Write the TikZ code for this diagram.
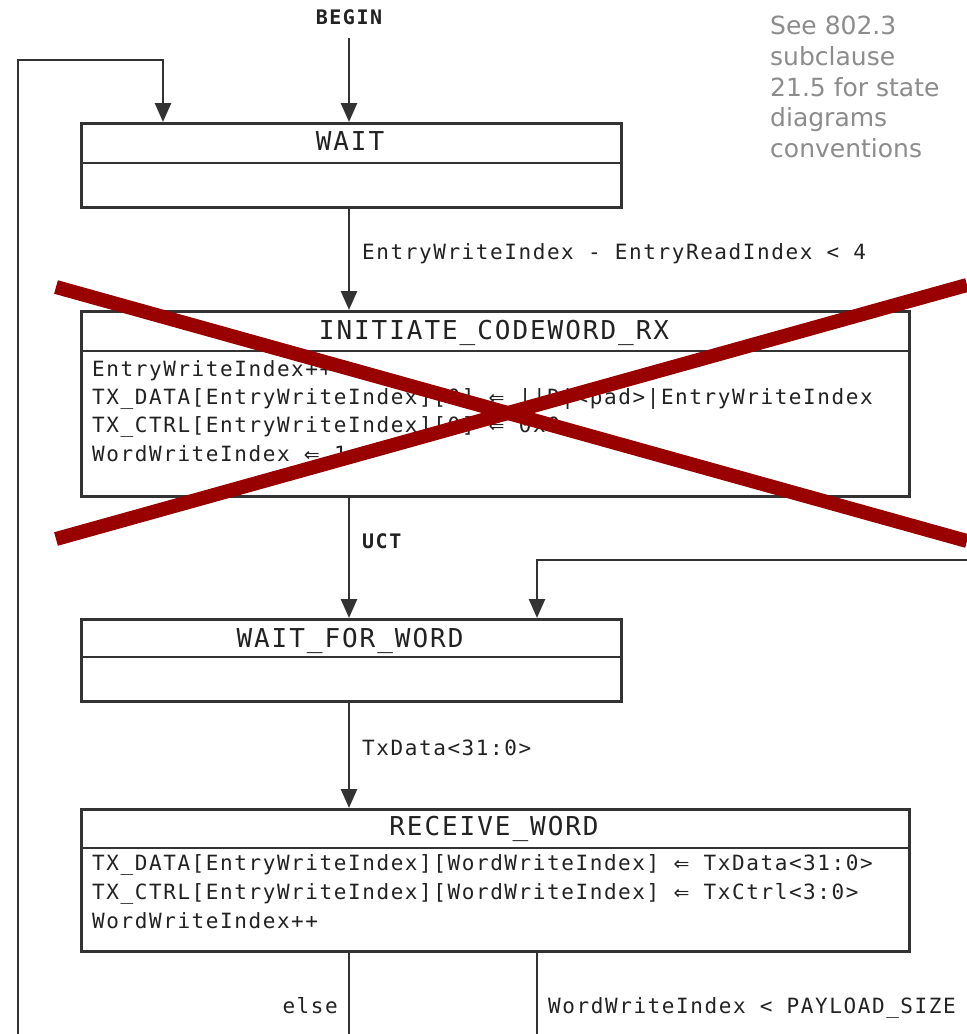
\documentclass[tikz,border=0pt]{standalone}
\usepackage{fontspec}
\usetikzlibrary{arrows.meta}
\newfontfamily\monoA[LetterSpace=7.5]{DejaVu Sans Mono}
\newfontfamily\noteF{DejaVu Sans}
\newcommand\assignsym{{\noteF\fontsize{19}{28}\selectfont ⇐}}
\definecolor{ln}{HTML}{333333}
\definecolor{txt}{HTML}{222222}
\definecolor{xred}{HTML}{990000}
\definecolor{notegray}{HTML}{8C8C8C}
\begin{document}
\begin{tikzpicture}[x=1pt,y=-1pt,
  statebox/.style={draw=ln, line width=2.8pt, anchor=north west, inner sep=0pt},
  divline/.style={draw=ln, line width=2.8pt},
  arr/.style={draw=ln, line width=2.6pt, -{Triangle[width=16pt,length=19pt]}},
  plain/.style={draw=ln, line width=2.6pt},
  title/.style={font=\monoA\fontsize{26}{30}\selectfont, text=txt, inner sep=0pt, text height=19pt, text depth=1pt},
  body/.style={font=\monoA\fontsize{21}{28}\selectfont, text=txt, anchor=west, inner sep=0pt, text height=15pt, text depth=1pt},
  boldlbl/.style={font=\monoA\bfseries\fontsize{20}{24}\selectfont, text=txt, inner sep=0pt, text height=15pt, text depth=1pt},
  note/.style={font=\noteF\fontsize{25}{30}\selectfont, text=notegray, anchor=west, inner sep=0pt, text height=18pt, text depth=0pt},
  xline/.style={draw=xred, line width=14pt}
]
\fill[white] (0,0) rectangle (967,1034);
\useasboundingbox (0,0) rectangle (967,1034);

% note
\node[note] (n1) at (770,25.5) {See 802.3};
\node[note] (n2) at (770,56.3) {subclause};
\node[note] (n3) at (770,87) {21.5 for state};
\node[note] (n4) at (770,117.8) {diagrams};
\node[note] (n5) at (770,148.5) {conventions};

% BEGIN
\node[boldlbl] (begin) at (349,17) {BEGIN};

% WAIT
\node[statebox, minimum width=540pt, minimum height=84pt] (wait) at (80,122) {};
\draw[divline] (wait.west |- 0,163) -- (wait.east |- 0,163);
\node[title] (waitT) at (350,141) {WAIT};

% INITIATE_CODEWORD_RX
\node[statebox, minimum width=828pt, minimum height=185pt] (init) at (80,310) {};
\draw[divline] (init.west |- 0,351) -- (init.east |- 0,351);
\node[title] (initT) at (494,330) {INITIATE\_CODEWORD\_RX};
\node[body] (i1) at (92,369) {EntryWriteIndex++};
\node[body] (i2) at (92,397) {TX\_DATA[EntryWriteIndex][0] \assignsym{} ||D|<pad>|EntryWriteIndex};
\node[body] (i3) at (92,425) {TX\_CTRL[EntryWriteIndex][0] \assignsym{} 0x0};
\node[body] (i4) at (92,454) {WordWriteIndex \assignsym{} 1};

% WAIT_FOR_WORD
\node[statebox, minimum width=540pt, minimum height=82pt] (wfw) at (80,618) {};
\draw[divline] (wfw.west |- 0,657) -- (wfw.east |- 0,657);
\node[title] (wfwT) at (350,638) {WAIT\_FOR\_WORD};

% RECEIVE_WORD
\node[statebox, minimum width=828pt, minimum height=142pt] (rw) at (80,808) {};
\draw[divline] (rw.west |- 0,848) -- (rw.east |- 0,848);
\node[title] (rwT) at (494,826) {RECEIVE\_WORD};
\node[body] (r1) at (92,863) {TX\_DATA[EntryWriteIndex][WordWriteIndex] \assignsym{} TxData<31:0>};
\node[body] (r2) at (92,892) {TX\_CTRL[EntryWriteIndex][WordWriteIndex] \assignsym{} TxCtrl<3:0>};
\node[body] (r3) at (92,921) {WordWriteIndex++};

% connectors
\coordinate (bcol) at (349,38);
\draw[arr] (bcol) -- (bcol |- wait.north);

\coordinate (loopL) at (18,1034);
\coordinate (lcorner) at (163,60);
\draw[arr] (loopL) |- (lcorner) -- (lcorner |- wait.north);

\coordinate (c1) at (349,0);
\draw[arr] (c1 |- wait.south) -- (c1 |- init.north);
\node[body] (l1) at (362,252) {EntryWriteIndex - EntryReadIndex < 4};

\draw[arr] (c1 |- init.south) -- (c1 |- wfw.north);
\node[boldlbl, anchor=west] (l2) at (362,541) {UCT};

\coordinate (rin) at (967,560);
\coordinate (rcol) at (537,0);
\draw[arr] (rin) -| (rcol |- wfw.north);

\draw[arr] (c1 |- wfw.south) -- (c1 |- rw.north);
\node[body] (l3) at (362,748) {TxData<31:0>};

\coordinate (b1) at (349,1034);
\coordinate (b2) at (537,1034);
\draw[plain] (b1 |- rw.south) -- (b1);
\draw[plain] (b2 |- rw.south) -- (b2);
\node[body, anchor=east] (l4) at (338,1006) {else};
\node[body] (l5) at (548,1006) {WordWriteIndex < PAYLOAD\_SIZE};

% red cross
\draw[xline] (56,287) -- (967,541);
\draw[xline] (56,539) -- (967,285);
\end{tikzpicture}
\end{document}
